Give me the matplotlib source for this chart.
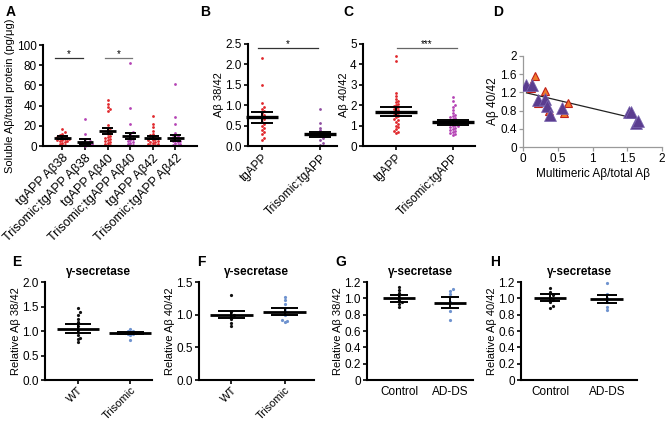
import matplotlib
matplotlib.use('Agg')
import matplotlib.pyplot as plt

plt.rcParams['font.family'] = ['Liberation Sans', 'DejaVu Sans']
plt.rcParams['font.size'] = 8

# ---------------- data ----------------
# A
a_labels = ['tgAPP Aβ38', 'Trisomic;tgAPP Aβ38', 'tgAPP Aβ40',
            'Trisomic;tgAPP Aβ40', 'tgAPP Aβ42', 'Trisomic;tgAPP Aβ42']
a_tg38 = [17, 14, 12, 11, 10, 9, 9, 8, 8, 7, 7, 6, 6, 5, 5, 4, 3, 2, 1, 0.5]
a_tri38 = [27, 12, 7, 5, 4, 3, 3, 2, 2, 1, 1, 0.5, 0]
a_tg40 = [46, 42, 39, 37, 35, 21, 18, 16, 14, 12, 10, 9, 8, 7, 6, 5, 4, 3, 2, 1, 0.5]
a_tri40 = [82, 38, 22, 14, 12, 10, 9, 7, 6, 5, 4, 3, 2, 1, 0.5]
a_tg42 = [30, 22, 19, 15, 12, 11, 10, 9, 8, 8, 7, 6, 6, 5, 4, 4, 3, 2, 2, 1, 1, 0.5]
a_tri42 = [61, 29, 22, 13, 11, 10, 9, 8, 7, 6, 5, 5, 4, 3, 2, 1, 1, 0.5]
a_mean = [8.2, 4.3, 15.1, 9.9, 8.2, 8.2]
a_sem = [1.5, 2.3, 3.0, 3.4, 1.5, 2.8]

# B
b_labels = ['tgAPP', 'Trisomic;tgAPP']
b_tg = [2.15, 1.5, 1.05, 0.95, 0.9, 0.85, 0.8, 0.75, 0.7, 0.65, 0.6,
        0.55, 0.5, 0.45, 0.4, 0.35, 0.3, 0.2, 0.15]
b_tri = [0.9, 0.56, 0.44, 0.38, 0.33, 0.3, 0.27, 0.24, 0.2, 0.15, 0.07, 0.02]
b_mean = [0.70, 0.29]
b_sem = [0.135, 0.06]

# C
c_labels = ['tgAPP', 'Trisomic;tgAPP']
c_tg = [4.4, 4.15, 2.6, 2.45, 2.3, 2.2, 2.15, 2.05, 2.0, 1.95, 1.9, 1.85, 1.8,
        1.75, 1.7, 1.6, 1.55, 1.5, 1.45, 1.4, 1.3, 1.25, 1.2, 1.1, 1.0, 0.95,
        0.85, 0.75, 0.7, 0.65]
c_tri = [2.4, 2.2, 2.0, 1.9, 1.75, 1.6, 1.5, 1.45, 1.4, 1.35, 1.3, 1.25, 1.2,
         1.15, 1.1, 1.05, 1.0, 1.0, 0.95, 0.9, 0.85, 0.8, 0.75, 0.7, 0.65,
         0.6, 0.55]
c_mean = [1.68, 1.16]
c_sem = [0.21, 0.13]

# D
d_red_x = [0.17, 0.12, 0.12, 0.31, 0.22, 0.37, 0.59, 0.65]
d_red_y = [1.55, 1.36, 1.29, 1.22, 0.96, 0.80, 0.74, 0.96]
d_pur_x = [0.05, 0.13, 0.22, 0.32, 0.35, 0.39, 0.56, 1.53, 1.56, 1.62, 1.66]
d_pur_y = [1.36, 1.36, 1.03, 1.05, 0.90, 0.70, 0.85, 0.78, 0.78, 0.53, 0.58]
d_fit_x = [0.05, 1.66]
d_fit_y = [1.19, 0.61]

# E-H
ef_labels = ['WT', 'Trisomic']
gh_labels = ['Control', 'AD-DS']
e_wt = [1.47, 1.38, 1.33, 1.25, 1.18, 1.1, 1.02, 0.92, 0.86, 0.83, 0.77]
e_tri = [1.04, 1.01, 0.99, 0.97, 0.96, 0.95, 0.94, 0.93, 0.91, 0.82]
e_mean = [1.05, 0.95]
e_sem = [0.085, 0.02]
f_wt = [1.30, 1.04, 1.0, 0.97, 0.93, 0.87, 0.83]
f_tri = [1.27, 1.23, 1.16, 1.10, 1.05, 1.0, 0.92, 0.9, 0.89]
f_mean = [1.0, 1.045]
f_sem = [0.055, 0.05]
g_ctrl = [1.14, 1.10, 1.06, 1.02, 0.98, 0.96, 0.93, 0.89]
g_ad = [1.12, 1.09, 1.05, 0.96, 0.84, 0.73]
g_mean = [1.0, 0.945]
g_sem = [0.043, 0.068]
h_ctrl = [1.13, 1.08, 1.04, 1.01, 0.98, 0.95, 0.91, 0.88]
h_ad = [1.19, 1.05, 1.0, 0.95, 0.9, 0.86]
h_mean = [1.01, 0.995]
h_sem = [0.045, 0.05]

RED = '#e0282c'
MAG = '#b543b5'
PUR = '#8e4ca0'
BLK = '#111111'
BLU = '#6f93cf'

W, H = 667, 423
fig = plt.figure(figsize=(W / 100, H / 100), dpi=100)


def axes_px(x0, x1, ytop, ybot):
    return fig.add_axes([x0 / W, (H - ybot) / H, (x1 - x0) / W, (ybot - ytop) / H])


def swarm(ax, center, vals, d=2.6):
    # simple beeswarm in pixel space
    (px0, py0), (px1, py1) = ax.transData.transform([(0, 0), (1, 1)])
    sx, sy = px1 - px0, py1 - py0
    placed = []
    xs = {}
    order = sorted(range(len(vals)), key=lambda k: vals[k])
    for k in order:
        yp = vals[k] * sy
        off = 0
        for j in range(60):
            off = ((j + 1) // 2) * d * (1 if j % 2 else -1) if j else 0
            if all((off - a) ** 2 + (yp - b) ** 2 >= d * d for a, b in placed):
                break
        placed.append((off, yp))
        xs[k] = center + off / sx
    return [xs[k] for k in range(len(vals))]


def style(ax, lw=1.5):
    for s in ['top', 'right']:
        ax.spines[s].set_visible(False)
    for s in ['left', 'bottom']:
        ax.spines[s].set_linewidth(lw)
        ax.spines[s].set_color('black')
    ax.tick_params(width=1.2, length=3, labelsize=8.5, pad=1.5)


def dots(ax, groups, colors, means, sems, mw, cw, d=2.6, ms=2.3, lw=2.2):
    for i, (vals, c) in enumerate(zip(groups, colors)):
        xs = swarm(ax, i, vals, d)
        ax.plot(xs, vals, ls='none', marker='o', ms=ms, color=c, mew=0,
                zorder=2, clip_on=False)
        m, s = means[i], sems[i]
        ax.hlines(m, i - mw, i + mw, color='k', lw=lw, zorder=3, clip_on=False)
        ax.vlines(i, m - s, m + s, color='k', lw=1.4, zorder=3, clip_on=False)
        ax.hlines([m - s, m + s], i - cw, i + cw, color='k', lw=1.4, zorder=3,
                  clip_on=False)


def sig(ax, x0, x1, y, txt, ty, color='#333333'):
    ax.plot([x0, x1], [y, y], color=color, lw=0.9, clip_on=False)
    ax.text((x0 + x1) / 2, ty, txt, ha='center', va='center', fontsize=7)


def rot_labels(ax, labels, size=8.5):
    ax.set_xticks(range(len(labels)))
    ax.set_xticklabels(labels, rotation=45, ha='right', rotation_mode='anchor',
                       fontsize=size)


# ---------------- A ----------------
axA = axes_px(43, 197, 45, 146)
axA.set_xlim(-0.85, 5.95)
axA.set_ylim(0, 100)
axA.set_yticks([0, 20, 40, 60, 80, 100])
style(axA)
dots(axA, [a_tg38, a_tri38, a_tg40, a_tri40, a_tg42, a_tri42],
     [RED, MAG, RED, MAG, RED, MAG], a_mean, a_sem, 0.37, 0.25, d=2.4, ms=2.0, lw=2.0)
rot_labels(axA, a_labels, size=9)
axA.set_ylabel('Soluble Aβ/total protein (pg/μg)', labelpad=1)
sig(axA, -0.3, 0.9, 87, '*', 91)
sig(axA, 1.9, 3.1, 87, '*', 91, color='#777777')

# ---------------- B ----------------
axB = axes_px(248, 337, 44, 146)
axB.set_xlim(-0.24, 1.29)
axB.set_ylim(0, 2.5)
axB.set_yticks([0, 0.5, 1.0, 1.5, 2.0, 2.5])
axB.set_yticklabels(['0.0', '0.5', '1.0', '1.5', '2.0', '2.5'])
style(axB)
dots(axB, [b_tg, b_tri], [RED, PUR], b_mean, b_sem, 0.28, 0.19, d=2.4, ms=2.0, lw=2.4)
rot_labels(axB, b_labels)
axB.set_ylabel('Aβ 38/42', labelpad=1)
sig(axB, -0.07, 0.97, 2.4, '*', 2.5)

# ---------------- C ----------------
axC = axes_px(363, 475, 44, 146)
axC.set_xlim(-0.58, 1.39)
axC.set_ylim(0, 5)
axC.set_yticks([0, 1, 2, 3, 4, 5])
style(axC)
dots(axC, [c_tg, c_tri], [RED, MAG], c_mean, c_sem, 0.37, 0.28, d=2.4, ms=2.0, lw=2.4)
rot_labels(axC, c_labels)
axC.set_ylabel('Aβ 40/42', labelpad=1)
sig(axC, 0.01, 1.07, 4.8, '***', 5.0, color='#666666')

# ---------------- D ----------------
axD = axes_px(523, 662, 56, 147)
axD.set_xlim(0, 2)
axD.set_ylim(0, 2)
axD.set_xticks([0, 0.5, 1, 1.5, 2])
axD.set_xticklabels(['0', '0.5', '1', '1.5', '2'])
axD.set_yticks([0, 0.4, 0.8, 1.2, 1.6, 2])
axD.set_yticklabels(['0', '0.4', '0.8', '1.2', '1.6', '2'])
for s in ['top', 'right']:
    axD.spines[s].set_visible(False)
for s in ['left', 'bottom']:
    axD.spines[s].set_color('#9a9a9a')
    axD.spines[s].set_linewidth(0.9)
axD.tick_params(color='#9a9a9a', width=0.9, length=3, labelsize=8.5, pad=1.5)
axD.plot(d_fit_x, d_fit_y, color='#222222', lw=0.9, zorder=2)
axD.plot(d_red_x, d_red_y, ls='none', marker='^', ms=6, mfc='#f07a2a',
         mec='#c0201a', mew=0.8, zorder=3)
axD.plot(d_pur_x, d_pur_y, ls='none', marker='^', ms=8, mfc='#5b3d8f',
         mec='#7a66b0', mew=0.5, zorder=4)
axD.set_xlabel('Multimeric Aβ/total Aβ', fontsize=8.5, labelpad=2)
axD.set_ylabel('Aβ 40/42', fontsize=8.5, labelpad=1)


# ---------------- E-H ----------------
def gamma_panel(x0, x1, xlim, ylim, ticks, ticklabels, groups, means, sems,
                labels, ylabel, rotate, mw, cw):
    ax = axes_px(x0, x1, 282, 380)
    ax.set_xlim(*xlim)
    ax.set_ylim(*ylim)
    ax.set_yticks(ticks)
    ax.set_yticklabels(ticklabels)
    style(ax)
    dots(ax, groups, [BLK, BLU], means, sems, mw, cw, d=2.6, ms=2.3, lw=2.0)
    if rotate:
        rot_labels(ax, labels, size=8)
        ax.tick_params(axis='x', pad=0.5)
    else:
        ax.set_xticks([0, 1])
        ax.set_xticklabels(labels)
        ax.tick_params(axis='x', length=0, pad=4)
    ax.set_ylabel(ylabel, labelpad=1)
    ax.text(0.5, 1.1, 'γ-secretase', transform=ax.transAxes, ha='center',
            va='center', fontsize=8.5, fontweight='semibold')
    return ax


gamma_panel(45, 152, (-0.62, 1.41), (0, 2.0), [0, 0.5, 1.0, 1.5, 2.0],
            ['0.0', '0.5', '1.0', '1.5', '2.0'], [e_wt, e_tri], e_mean, e_sem,
            ef_labels, 'Relative Aβ 38/42', True, 0.4, 0.25)
gamma_panel(199, 314, (-0.61, 1.55), (0, 1.5), [0, 0.5, 1.0, 1.5],
            ['0.0', '0.5', '1.0', '1.5'], [f_wt, f_tri], f_mean, f_sem,
            ef_labels, 'Relative Aβ 40/42', True, 0.4, 0.25)
gtk = [0, 0.2, 0.4, 0.6, 0.8, 1.0, 1.2]
gtl = ['0', '0.2', '0.4', '0.6', '0.8', '1.0', '1.2']
gamma_panel(367, 473, (-0.63, 1.45), (0, 1.2), gtk, gtl, [g_ctrl, g_ad],
            g_mean, g_sem, gh_labels, 'Relative Aβ 38/42', False, 0.31, 0.17)
gamma_panel(521, 637, (-0.51, 1.53), (0, 1.2), gtk, gtl, [h_ctrl, h_ad],
            h_mean, h_sem, gh_labels, 'Relative Aβ 40/42', False, 0.29, 0.17)

# panel letters
for letter, x, y in [('A', 6, 12), ('B', 200, 12), ('C', 343, 12), ('D', 493, 12),
                     ('E', 12, 262), ('F', 197, 262), ('G', 335, 262), ('H', 490, 262)]:
    fig.text(x / W, 1 - y / H, letter, fontsize=10, fontweight='bold',
             ha='left', va='center')

fig.savefig('out.png', dpi=100)
